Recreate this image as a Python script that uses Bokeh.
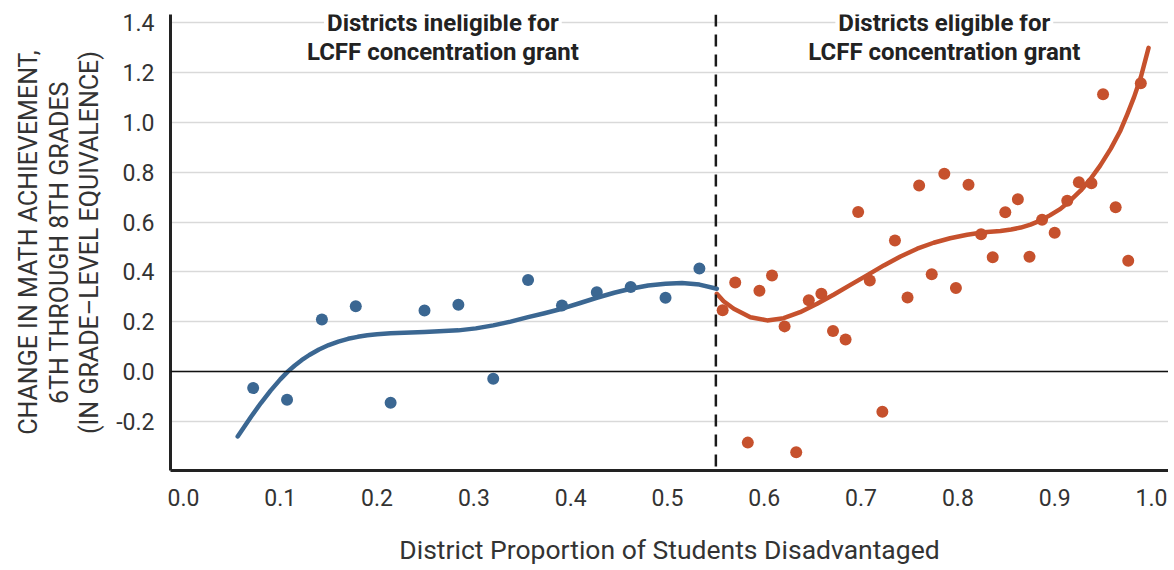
from bokeh.plotting import figure
from bokeh.models import Span, Label, FixedTicker, PrintfTickFormatter, Range1d
from bokeh.embed import file_html
from bokeh.resources import INLINE

# ---- data ----
blue_x = [0.072, 0.107, 0.143, 0.178, 0.214, 0.249, 0.284, 0.320, 0.356, 0.391, 0.427, 0.462, 0.498, 0.533]
blue_y = [-0.067, -0.114, 0.209, 0.262, -0.126, 0.245, 0.268, -0.029, 0.367, 0.265, 0.318, 0.339, 0.296, 0.414]

red_x = [0.557, 0.570, 0.583, 0.595, 0.608, 0.621, 0.633, 0.646, 0.659, 0.671, 0.684, 0.697, 0.709,
         0.722, 0.735, 0.748, 0.760, 0.773, 0.786, 0.798, 0.811, 0.824, 0.836, 0.849, 0.862, 0.874,
         0.887, 0.900, 0.913, 0.925, 0.938, 0.950, 0.963, 0.976, 0.989]
red_y = [0.246, 0.357, -0.286, 0.324, 0.385, 0.181, -0.325, 0.286, 0.312, 0.162, 0.128, 0.641, 0.365,
         -0.162, 0.526, 0.297, 0.747, 0.390, 0.794, 0.335, 0.750, 0.551, 0.459, 0.640, 0.692, 0.461,
         0.609, 0.557, 0.686, 0.760, 0.756, 1.114, 0.660, 0.445, 1.158]

# fitted curves
fit_blue_x = [0.056, 0.063, 0.070, 0.080, 0.090, 0.100, 0.108, 0.115, 0.122, 0.130, 0.140, 0.150, 0.160,
              0.170, 0.180, 0.190, 0.200, 0.214, 0.249, 0.284, 0.302, 0.320, 0.338, 0.356, 0.373, 0.391,
              0.409, 0.427, 0.445, 0.462, 0.480, 0.498, 0.515, 0.533, 0.551]
fit_blue_y = [-0.261, -0.221, -0.181, -0.127, -0.077, -0.032, 0.000, 0.024, 0.045, 0.066, 0.088, 0.106, 0.120,
              0.131, 0.139, 0.145, 0.149, 0.153, 0.158, 0.165, 0.173, 0.185, 0.200, 0.218, 0.234, 0.252,
              0.274, 0.296, 0.316, 0.332, 0.345, 0.352, 0.355, 0.349, 0.332]

fit_red_x = [0.551, 0.558, 0.5685, 0.5857, 0.603, 0.620, 0.637, 0.6546, 0.672, 0.689, 0.706, 0.7235,
             0.7407, 0.758, 0.775, 0.792, 0.8096, 0.8268, 0.844, 0.855, 0.865, 0.875, 0.885, 0.895,
             0.906, 0.916, 0.927, 0.937, 0.947, 0.958, 0.968, 0.975, 0.982, 0.989, 0.997]
fit_red_y = [0.312, 0.282, 0.252, 0.218, 0.205, 0.214, 0.238, 0.272, 0.309, 0.348, 0.386, 0.426,
             0.462, 0.493, 0.517, 0.535, 0.549, 0.559, 0.564, 0.570, 0.578, 0.590, 0.606, 0.627,
             0.653, 0.686, 0.727, 0.773, 0.827, 0.895, 0.968, 1.033, 1.102, 1.182, 1.300]

x_ticks = [0.0, 0.1, 0.2, 0.3, 0.4, 0.5, 0.6, 0.7, 0.8, 0.9, 1.0]
y_ticks = [-0.2, 0.0, 0.2, 0.4, 0.6, 0.8, 1.0, 1.2, 1.4]
threshold = 0.55

left_text = ["Districts ineligible for", "LCFF concentration grant"]
right_text = ["Districts eligible for", "LCFF concentration grant"]

BLUE = "#3b6792"
RED = "#c6512d"
FONT = "Roboto"
TXT = "#333333"

p = figure(frame_width=998, frame_height=456, output_backend="svg", toolbar_location=None,
           x_range=Range1d(-0.0134, 1.0176), y_range=Range1d(-0.398, 1.434),
           min_border_left=170, min_border_top=14, min_border_right=0, min_border_bottom=96)
p.outline_line_color = None
p.background_fill_color = "white"
p.border_fill_color = "white"

for ax in (p.xaxis[0], p.yaxis[0]):
    ax.axis_line_color = "#222222"
    ax.axis_line_width = 3
    ax.major_tick_line_color = None
    ax.minor_tick_line_color = None
    ax.major_tick_out = 0
    ax.major_tick_in = 0
    ax.major_label_text_font = FONT
    ax.major_label_text_font_size = "23px"
    ax.major_label_text_color = TXT
    ax.axis_label_text_font = FONT
    ax.axis_label_text_font_style = "normal"
    ax.axis_label_text_color = TXT
    ax.formatter = PrintfTickFormatter(format="%.1f")

p.xaxis.ticker = FixedTicker(ticks=x_ticks)
p.yaxis.ticker = FixedTicker(ticks=y_ticks)
p.xaxis.major_label_standoff = 18
p.yaxis.major_label_standoff = 16
p.xaxis.axis_label = "District Proportion of Students Disadvantaged"
p.xaxis.axis_label_text_font_size = "26.5px"
p.xaxis.axis_label_standoff = 25
p.yaxis.axis_label = "CHANGE IN MATH ACHIEVEMENT,\n6TH THROUGH 8TH GRADES\n(IN GRADE\u2013LEVEL EQUIVALENCE)"
p.yaxis.axis_label_text_font_size = "25px"
p.yaxis.axis_label_text_line_height = 1.05
p.yaxis.axis_label_standoff = 9

p.xgrid.grid_line_color = None
p.ygrid.ticker = FixedTicker(ticks=y_ticks)
p.ygrid.grid_line_color = "#d9d9d9"
p.ygrid.grid_line_width = 1.5

p.add_layout(Span(location=0, dimension="width", line_color="#111111", line_width=1.5))

# annotations
lab_kw = dict(text_align="center", text_baseline="middle", text_font=FONT, text_font_style="bold",
              text_font_size="24px", text_color="#222222")
p.add_layout(Label(x=0.268, y=1.4, text=left_text[0], background_fill_color="white", padding=3, **lab_kw))
p.add_layout(Label(x=0.268, y=1.285, text=left_text[1], **lab_kw))
p.add_layout(Label(x=0.786, y=1.4, text=right_text[0], background_fill_color="white", padding=3, **lab_kw))
p.add_layout(Label(x=0.786, y=1.285, text=right_text[1], **lab_kw))

# scatter + fitted curves
p.scatter(blue_x, blue_y, size=12, color=BLUE, line_color=None)
p.scatter(red_x, red_y, size=12, color=RED, line_color=None)
p.line(fit_blue_x, fit_blue_y, line_color=BLUE, line_width=4.5, line_cap="round", line_join="round")
p.line(fit_red_x, fit_red_y, line_color=RED, line_width=4.5, line_cap="round", line_join="round")

p.add_layout(Span(location=threshold, dimension="height", line_color="#1a1a1a", line_width=2.5,
                  line_dash="12 8", level="overlay"))

open("out.html", "w").write(file_html(p, INLINE))
